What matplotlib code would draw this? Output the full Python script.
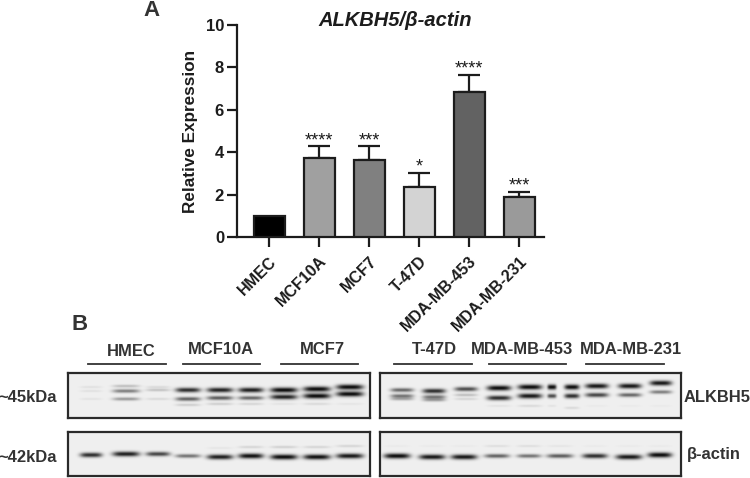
import numpy as np
import matplotlib
matplotlib.use("Agg")
import matplotlib.pyplot as plt
from matplotlib.lines import Line2D
from matplotlib.transforms import ScaledTranslation

plt.rcParams["font.family"] = ["Liberation Sans", "DejaVu Sans"]

W, H = 750, 478
INK = "#1c1c1c"

# panel A
cell_lines = ["HMEC", "MCF10A", "MCF7", "T-47D", "MDA-MB-453", "MDA-MB-231"]
expression = [1.0, 3.75, 3.65, 2.37, 6.83, 1.88]
upper_error = [0.0, 0.52, 0.62, 0.66, 0.82, 0.25]
bar_colors = ["#000000", "#a0a0a0", "#808080", "#d3d3d3", "#626262", "#9a9a9a"]
stars = ["", "****", "***", "*", "****", "***"]
y_ticks = [0, 2, 4, 6, 8, 10]

# panel B, lanes and band rows read in pixels inside each blot frame
left_lanes = [23, 58, 90, 120, 152, 183, 216, 249, 282]
left_widths = [22, 27, 24, 25, 26, 25, 27, 27, 27]
left_top_bands = [
    ([14, 13, 14, 17, 17, 17, 17, 16, 14], [0.07, 0.22, 0.10, 0.85, 0.90, 0.92, 1.0, 1.0, 1.0]),
    ([18, 18, 17, 26, 25, 25, 24, 23, 21], [0.07, 0.50, 0.20, 0.62, 0.65, 0.60, 0.90, 1.0, 1.0]),
    ([26, 26, 26, 32, 31, 31, 31, 31, 31], [0.06, 0.38, 0.10, 0.15, 0.15, 0.12, 0.06, 0.10, 0.05]),
]
left_bottom_bands = [
    ([23, 22, 22, 24, 25, 24, 25, 25, 24], [0.85, 0.92, 0.75, 0.55, 0.92, 0.98, 1.0, 0.98, 0.95]),
    ([16, 16, 16, 16, 16, 15, 15, 15, 14], [0.0, 0.0, 0.0, 0.0, 0.05, 0.12, 0.14, 0.12, 0.12]),
]

right_lanes = [22, 54, 86, 119, 150, 172, 192, 217, 250, 281]
right_widths = [23, 23, 23, 24, 24, 9, 15, 23, 23, 22]
right_top_bands = [
    ([17, 18, 16, 15, 14, 14, 14, 13, 13, 10], [0.60, 0.85, 0.72, 1.0, 1.0, 1.0, 1.0, 0.95, 0.95, 0.95]),
    ([23, 24, 22, 25, 23, 23, 23, 22, 22, 19], [0.55, 0.55, 0.22, 0.85, 0.95, 0.72, 0.85, 0.75, 0.60, 0.50]),
    ([26, 27, 26, 33, 33, 33, 35, 33, 33, 33], [0.30, 0.35, 0.12, 0.06, 0.10, 0.06, 0.10, 0.03, 0.03, 0.03]),
]
right_bottom_lanes = [17, 52, 84, 117, 149, 180, 215, 249, 280]
right_bottom_widths = [26, 26, 26, 25, 24, 26, 25, 26, 24]
right_bottom_bands = [
    ([24, 25, 25, 24, 24, 24, 24, 25, 23], [1.0, 0.95, 0.95, 0.62, 0.55, 0.65, 0.85, 0.95, 1.0]),
    ([14, 14, 14, 14, 14, 14, 14, 14, 14], [0.03, 0.03, 0.03, 0.08, 0.08, 0.05, 0.03, 0.03, 0.03]),
]

group_names = ["HMEC", "MCF10A", "MCF7", "T-47D", "MDA-MB-453", "MDA-MB-231"]
group_label_x = [131, 221, 322, 434, 522, 631]
group_label_y = [351, 349, 350, 350, 350, 350]
group_spans = [(88, 166), (183, 260), (281, 358), (394, 472), (489, 566), (586, 664)]


def px_axes(fig, left, top, right, bottom):
    return fig.add_axes([left / W, 1 - bottom / H, (right - left) / W, (bottom - top) / H])


def px_text(fig, x, y, label, **kwargs):
    kwargs.setdefault("color", INK)
    kwargs.setdefault("fontweight", "bold")
    kwargs.setdefault("va", "center")
    fig.text(x / W, 1 - y / H, label, **kwargs)


def draw_blot(fig, box, lanes, widths, bands):
    """Render band rows as soft smears on a light membrane."""
    left, top, right, bottom = box
    xs = np.linspace(0, right - left, (right - left) * 3)
    ys = np.linspace(0, bottom - top, (bottom - top) * 3)
    xx, yy = np.meshgrid(xs, ys)
    dark = np.zeros_like(xx)
    for band_y, band_dark in bands:
        for cx, w, cy, d in zip(lanes, widths, band_y, band_dark):
            thick = 1.1 + 1.5 * d
            dark += d * np.exp(-((xx - cx) / (w / 2)) ** 4) * np.exp(-((yy - cy) / thick) ** 2)
    image = 0.94 - 0.9 * np.clip(dark, 0, 1)

    ax = px_axes(fig, left, top, right, bottom)
    ax.imshow(image, cmap="gray", vmin=0, vmax=1, aspect="auto",
              extent=(0, right - left, bottom - top, 0), interpolation="bilinear")
    ax.set_xticks([])
    ax.set_yticks([])
    for spine in ax.spines.values():
        spine.set_linewidth(1.6)
        spine.set_color("#2a2a2a")
    return ax


fig = plt.figure(figsize=(W / 100, H / 100), dpi=100)

# bar chart
ax = px_axes(fig, 236.5, 25, 544, 237)
positions = np.arange(len(cell_lines))
ax.bar(positions, expression, width=0.62, color=bar_colors, edgecolor=INK, linewidth=1.6, zorder=3)
ax.errorbar(positions[1:], expression[1:], yerr=[np.zeros(5), upper_error[1:]], fmt="none",
            ecolor=INK, elinewidth=1.6, capsize=8, capthick=1.6, zorder=2)
for pos, val, err, star in zip(positions, expression, upper_error, stars):
    if star:
        ax.text(pos, val + err - 0.12, star, ha="center", va="bottom", fontsize=13,
                color=INK, linespacing=0.8)

ax.set_xlim(-0.65, 5.5)
ax.set_ylim(0, 10)
ax.set_yticks(y_ticks)
ax.set_xticks(positions)
ax.set_xticklabels(cell_lines, rotation=45, ha="right", rotation_mode="anchor",
                   fontsize=11.5, fontweight="bold", color=INK)
shift = ScaledTranslation(-3 / 100, 0, fig.dpi_scale_trans)
for tick in ax.get_xticklabels():
    tick.set_transform(tick.get_transform() + shift)
ax.tick_params(axis="y", labelsize=12, width=1.6, length=7, color=INK, labelcolor=INK, pad=2)
ax.tick_params(axis="x", width=1.6, length=7, color=INK, pad=5)
for tick in ax.get_yticklabels():
    tick.set_fontweight("bold")
ax.spines["top"].set_visible(False)
ax.spines["right"].set_visible(False)
ax.spines["left"].set_linewidth(1.6)
ax.spines["bottom"].set_linewidth(1.6)
ax.spines["left"].set_color(INK)
ax.spines["bottom"].set_color(INK)
ax.patch.set_alpha(0)

px_text(fig, 191, 131, "Relative Expression", fontsize=12.3, rotation=90, ha="center")
px_text(fig, 395, 21, "ALKBH5/β-actin", fontsize=14.5, fontstyle="italic", ha="center")
px_text(fig, 152, 10, "A", fontsize=16, ha="center", color="#333333")
px_text(fig, 80, 324, "B", fontsize=16, ha="center", color="#333333")

# western blots
draw_blot(fig, (68, 373, 370, 418), left_lanes, left_widths, left_top_bands)
draw_blot(fig, (68, 432, 370, 476), left_lanes, left_widths, left_bottom_bands)
draw_blot(fig, (380, 373, 681, 418), right_lanes, right_widths, right_top_bands)
draw_blot(fig, (380, 432, 681, 476), right_bottom_lanes, right_bottom_widths, right_bottom_bands)

for name, x, y, (x0, x1) in zip(group_names, group_label_x, group_label_y, group_spans):
    px_text(fig, x, y, name, fontsize=11.9, ha="center", color="#333333")
    fig.add_artist(Line2D([x0 / W, x1 / W], [1 - 363.5 / H] * 2, color="#333333", linewidth=1.3))

px_text(fig, 57, 398, "~45kDa", fontsize=11.9, ha="right", color="#333333")
px_text(fig, 57, 457, "~42kDa", fontsize=11.9, ha="right", color="#333333")
px_text(fig, 684, 397, "ALKBH5", fontsize=11.9, ha="left", color="#333333")
px_text(fig, 687, 455, "β-actin", fontsize=11.9, ha="left", color="#333333")

fig.savefig("out.png", dpi=100)
